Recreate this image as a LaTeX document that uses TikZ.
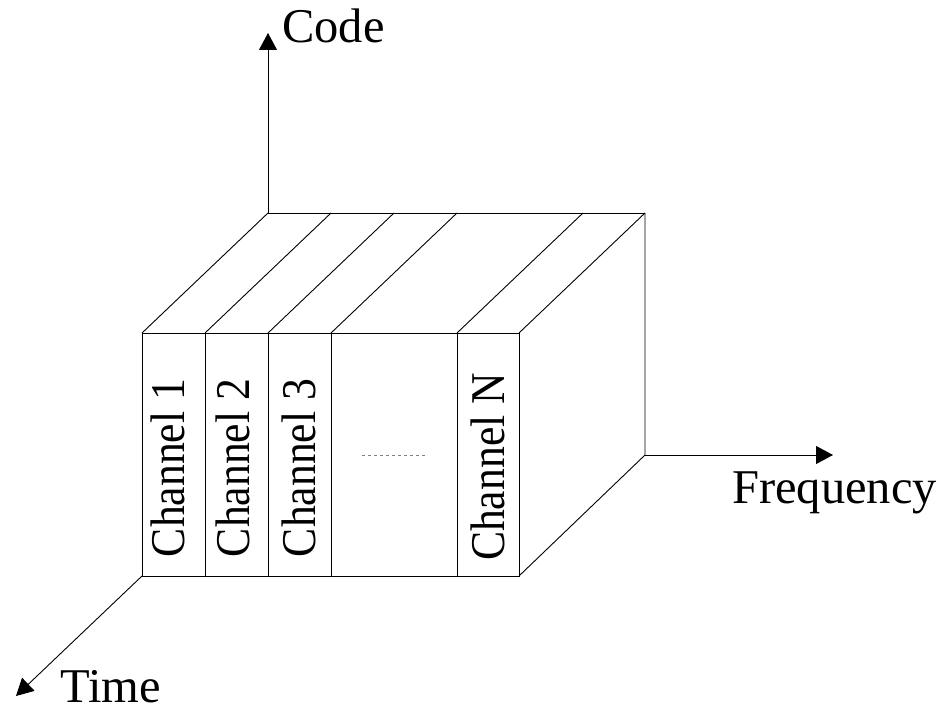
\documentclass[tikz,border=0pt]{standalone}
\usepackage{fontspec}
\usepackage{graphicx}
\setmainfont{Liberation Serif}
\usetikzlibrary{arrows.meta}
\begin{document}
\begin{tikzpicture}[x=1pt,y=-1pt,
  edge/.style={line width=0.9pt, line join=miter},
  axis/.style={line width=0.9pt, -{Triangle[length=17pt,width=18pt]}},
  lbl/.style={font=\fontsize{48.5}{52}\selectfont, inner sep=0pt},
  chan/.style={lbl, rotate=90},
  dots/.style={line width=1pt, gray, dash pattern=on 3pt off 3pt}]
\useasboundingbox (0,0) rectangle (940,711);

% front face corners and channel dividers
\coordinate (f0t) at (142,333); \coordinate (f0b) at (142,576);
\coordinate (f1t) at (205,333); \coordinate (f1b) at (205,576);
\coordinate (f2t) at (268,333); \coordinate (f2b) at (268,576);
\coordinate (f3t) at (331,333); \coordinate (f3b) at (331,576);
\coordinate (f4t) at (457,333); \coordinate (f4b) at (457,576);
\coordinate (f5t) at (519,333); \coordinate (f5b) at (519,576);

% back edge points (depth offset)
\coordinate (b0t) at (268,213);
\coordinate (b1t) at (331,213);
\coordinate (b2t) at (394,213);
\coordinate (b3t) at (457,213);
\coordinate (b4t) at (583,213);
\coordinate (b5t) at (645,213);
\coordinate (b5b) at (645,455);

% axis ends
\coordinate (codeEnd) at (268,33);
\coordinate (freqEnd) at (833,455);
\coordinate (timeEnd) at (16,696);

% front face
\draw[edge] (f0t) rectangle (f5b);
\foreach \i in {1,2,3,4} \draw[edge] (f\i t) -- (f\i b);

% top face
\foreach \i in {0,...,5} \draw[edge] (f\i t) -- (b\i t);
\draw[edge] (b0t) -- (b5t);

% right face
\draw[edge] (b5t) -- (b5b) -- (f5b);

% axes
\draw[axis] (b0t) -- (codeEnd);
\draw[axis] (b5b) -- (freqEnd);
\draw[axis] (f0b) -- (timeEnd);

% axis labels
\node[lbl, anchor=base west] (code) at (282,43) {Code};
\node[lbl, anchor=base west] (freq) at (732,503) {Frequency};
\node[lbl, anchor=base west] (time) at (60,702) {Time};

% channel labels
\node[chan] (ch1) at (168,468) {\scalebox{0.9}[1]{Channel 1}};
\node[chan] (ch2) at (233,468) {\scalebox{0.9}[1]{Channel 2}};
\node[chan] (ch3) at (299,468) {\scalebox{0.9}[1]{Channel 3}};
\node[chan] (chN) at (488,467) {\scalebox{0.9}[1]{Channel N}};

% ellipsis between channel 3 and channel N
\coordinate (dotsL) at (362,455);
\coordinate (dotsR) at (426,455);
\draw[dots] (dotsL) -- (dotsR);
\end{tikzpicture}
\end{document}
